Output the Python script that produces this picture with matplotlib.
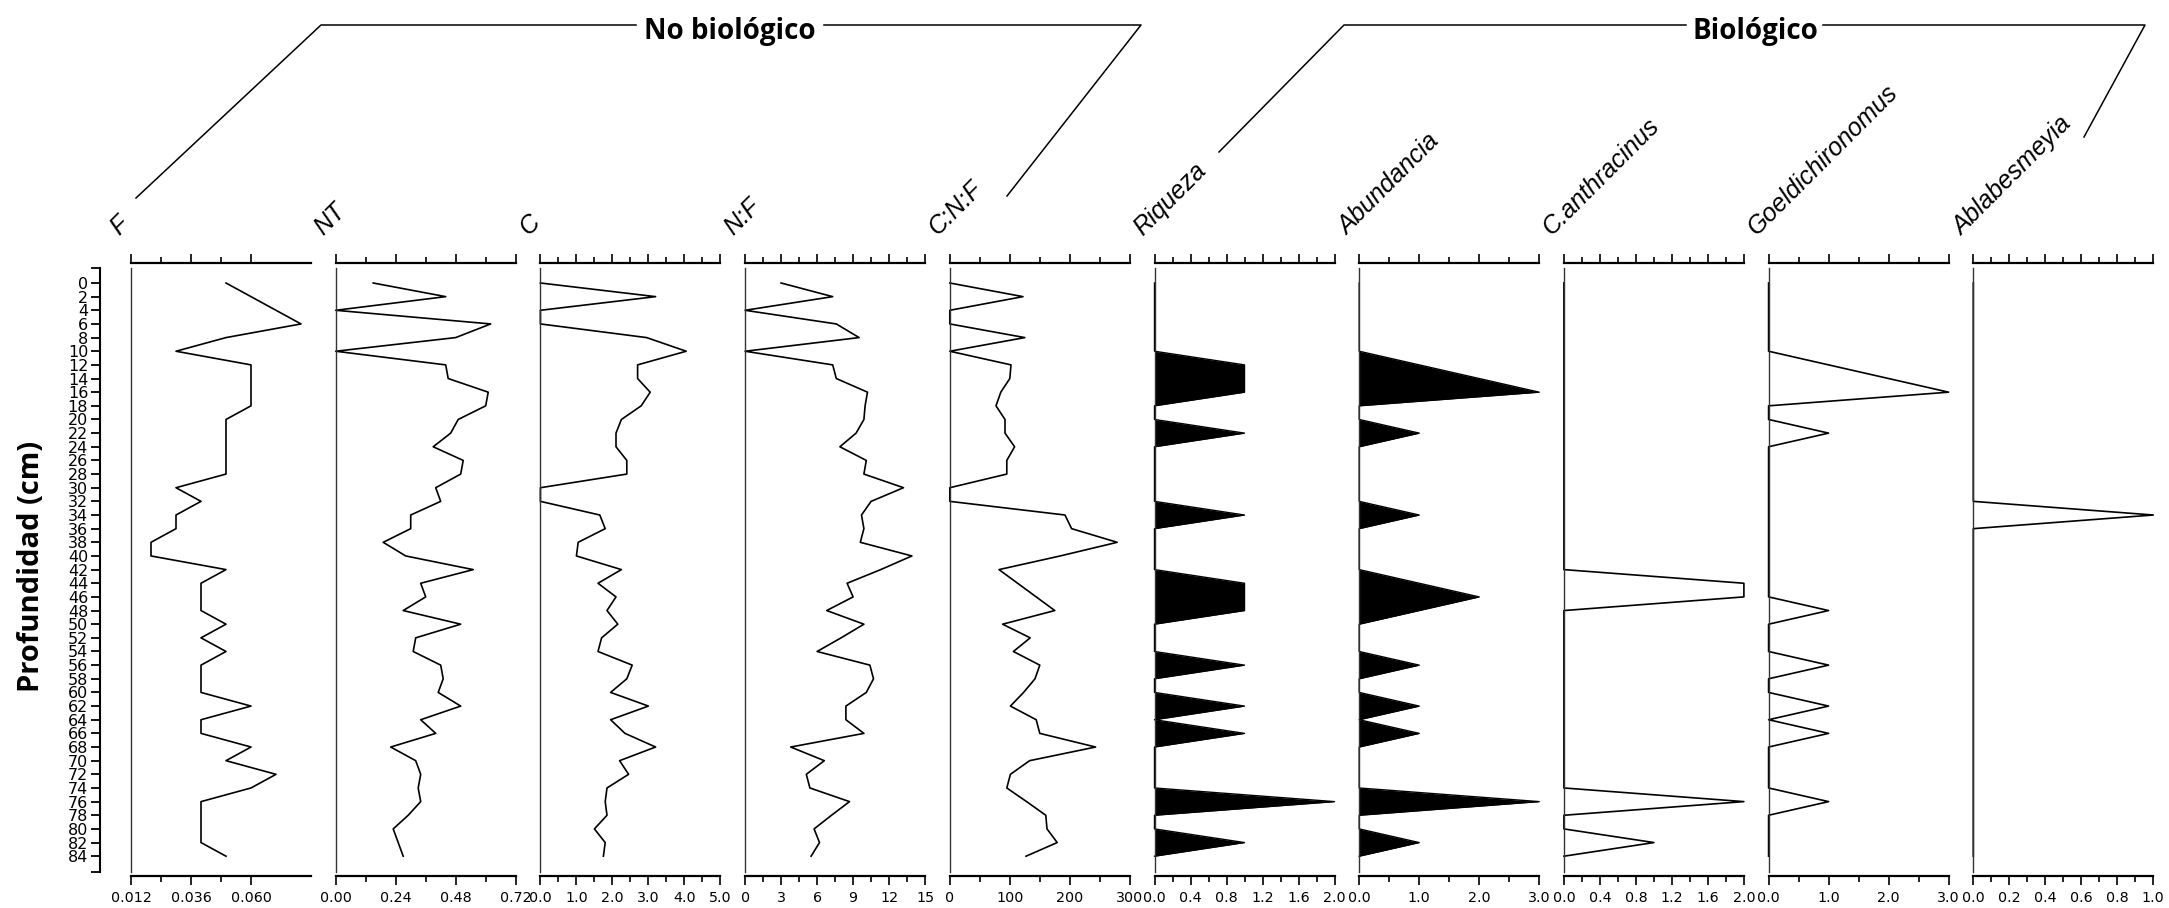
import matplotlib
matplotlib.use('Agg')
import matplotlib.pyplot as plt
from matplotlib import font_manager as fm
from matplotlib.lines import Line2D
import numpy as np

W, H, DPI = 2169, 908, 100

# profundidad (cm), una muestra cada 2 cm
depth = list(range(0, 86, 2))

f_vals = [0.05, 0.06, 0.07, 0.08, 0.05, 0.03, 0.06, 0.06, 0.06, 0.06,
          0.05, 0.05, 0.05, 0.05, 0.05, 0.03, 0.04, 0.03, 0.03, 0.02,
          0.02, 0.05, 0.04, 0.04, 0.04, 0.05, 0.04, 0.05, 0.04, 0.04,
          0.04, 0.06, 0.04, 0.04, 0.06, 0.05, 0.07, 0.06, 0.04, 0.04,
          0.04, 0.04, 0.05]
nt_vals = [0.15, 0.44, 0.0, 0.62, 0.48, 0.0, 0.44, 0.45, 0.61, 0.60,
           0.49, 0.46, 0.39, 0.51, 0.50, 0.40, 0.42, 0.30, 0.30, 0.19,
           0.28, 0.55, 0.34, 0.36, 0.27, 0.50, 0.32, 0.31, 0.42, 0.43,
           0.41, 0.50, 0.34, 0.40, 0.22, 0.32, 0.34, 0.33, 0.34, 0.29,
           0.23, 0.25, 0.27]
c_vals = [0.0, 3.2, 0.0, 0.0, 2.95, 4.05, 2.7, 2.7, 3.05, 2.8,
          2.25, 2.1, 2.1, 2.4, 2.4, 0.0, 0.0, 1.65, 1.8, 1.05,
          1.0, 2.25, 1.6, 2.1, 1.85, 2.15, 1.7, 1.6, 2.55, 2.4,
          1.95, 3.0, 1.95, 2.35, 3.2, 2.2, 2.45, 1.85, 1.8, 1.85,
          1.5, 1.8, 1.75]
nf_vals = [3.0, 7.3, 0.0, 7.6, 9.5, 0.0, 7.3, 7.6, 10.2, 10.0,
           9.9, 9.25, 7.9, 10.1, 9.9, 13.2, 10.5, 9.7, 9.9, 9.6,
           13.9, 11.3, 8.5, 9.0, 6.8, 9.9, 8.0, 6.0, 10.4, 10.7,
           10.1, 8.4, 8.4, 9.9, 3.8, 6.6, 5.1, 5.4, 8.7, 7.2,
           5.75, 6.2, 5.5]
cnf_vals = [0, 122, 0, 0, 125, 0, 102, 100, 85, 77,
            92, 92, 108, 95, 95, 0, 0, 192, 203, 279,
            184, 82, 113, 144, 175, 88, 134, 106, 150, 142,
            123, 101, 144, 150, 243, 133, 101, 95, 128, 160,
            162, 179, 127]
riqueza = [0, 0, 0, 0, 0, 0, 1, 1, 1, 0,
           0, 1, 0, 0, 0, 0, 0, 1, 0, 0,
           0, 0, 1, 1, 1, 0, 0, 0, 1, 0,
           0, 1, 0, 1, 0, 0, 0, 0, 2, 0,
           0, 1, 0]
abundancia = [0, 0, 0, 0, 0, 0, 1, 2, 3, 0,
              0, 1, 0, 0, 0, 0, 0, 1, 0, 0,
              0, 0, 1, 2, 1, 0, 0, 0, 1, 0,
              0, 1, 0, 1, 0, 0, 0, 0, 3, 0,
              0, 1, 0]
c_anthracinus = [0, 0, 0, 0, 0, 0, 0, 0, 0, 0,
                 0, 0, 0, 0, 0, 0, 0, 0, 0, 0,
                 0, 0, 2, 2, 0, 0, 0, 0, 0, 0,
                 0, 0, 0, 0, 0, 0, 0, 0, 2, 0,
                 0, 1, 0]
goeldichironomus = [0, 0, 0, 0, 0, 0, 1, 2, 3, 0,
                    0, 1, 0, 0, 0, 0, 0, 0, 0, 0,
                    0, 0, 0, 0, 1, 0, 0, 0, 1, 0,
                    0, 1, 0, 1, 0, 0, 0, 0, 1, 0,
                    0, 0, 0]
ablabesmeyia = [0, 0, 0, 0, 0, 0, 0, 0, 0, 0,
                0, 0, 0, 0, 0, 0, 0, 1, 0, 0,
                0, 0, 0, 0, 0, 0, 0, 0, 0, 0,
                0, 0, 0, 0, 0, 0, 0, 0, 0, 0,
                0, 0, 0]

# (titulo, datos, limites, ticks mayores, ticks menores, formato, estilo)
panels = [
    ('F', f_vals, (0.012, 0.084), [0.012, 0.036, 0.060], [0.024, 0.048], '{:.3f}', 'line'),
    ('NT', nt_vals, (0, 0.72), [0, 0.24, 0.48, 0.72], [0.12, 0.36, 0.60], '{:.2f}', 'line'),
    ('C', c_vals, (0, 5), [0, 1, 2, 3, 4, 5], [0.5, 1.5, 2.5, 3.5, 4.5], '{:.1f}', 'line'),
    ('N:F', nf_vals, (0, 15), [0, 3, 6, 9, 12, 15], [1.5, 4.5, 7.5, 10.5, 13.5], '{:.0f}', 'line'),
    ('C:N:F', cnf_vals, (0, 300), [0, 100, 200, 300], [50, 150, 250], '{:.0f}', 'line'),
    ('Riqueza', riqueza, (0, 2), [0, 0.4, 0.8, 1.2, 1.6, 2.0], [0.2, 0.6, 1.0, 1.4, 1.8], '{:.1f}', 'fill'),
    ('Abundancia', abundancia, (0, 3), [0, 1, 2, 3], [0.5, 1.5, 2.5], '{:.1f}', 'fill'),
    ('C.anthracinus', c_anthracinus, (0, 2), [0, 0.4, 0.8, 1.2, 1.6, 2.0], [0.2, 0.6, 1.0, 1.4, 1.8], '{:.1f}', 'outline'),
    ('Goeldichironomus', goeldichironomus, (0, 3), [0, 1, 2, 3], [0.5, 1.5, 2.5], '{:.1f}', 'outline'),
    ('Ablabesmeyia', ablabesmeyia, (0, 1), [0, 0.2, 0.4, 0.6, 0.8, 1.0], [0.1, 0.3, 0.5, 0.7, 0.9], '{:.1f}', 'outline'),
]


def has_bold(name):
    return any(f.name == name and f.weight in (600, 700, 'bold', 'semibold')
               for f in fm.fontManager.ttflist)


bold_family = next((n for n in ['Open Sans', 'Noto Sans', 'DejaVu Sans'] if has_bold(n)), 'DejaVu Sans')
names = {f.name for f in fm.fontManager.ttflist}
title_family = 'Liberation Sans' if 'Liberation Sans' in names else 'DejaVu Sans'

plt.rcParams['font.family'] = 'DejaVu Sans'

fig = plt.figure(figsize=(W / DPI, H / DPI), dpi=DPI)


def fx(px):
    return px / W


def fy(py):
    return 1 - py / H


AX_TOP, AX_BOT = 263, 876
PANEL_W = 180
Y_TOP, Y_BOT = -2.93, 86.9
SPINE_LO, SPINE_HI = -2.2, 86.3

# eje de profundidad
dax = fig.add_axes([fx(100), fy(AX_BOT), 0.0005, (AX_BOT - AX_TOP) / H])
dax.set_ylim(Y_BOT, Y_TOP)
for s in ['top', 'right', 'bottom']:
    dax.spines[s].set_visible(False)
dax.spines['left'].set_bounds(SPINE_LO, SPINE_HI)
dax.spines['left'].set_linewidth(1.5)
dax.set_xticks([])
dax.set_yticks(depth)
dax.set_yticklabels([str(d) for d in depth])
dax.set_yticks([SPINE_LO, SPINE_HI], minor=True)
dax.tick_params(axis='y', which='both', length=6.5, width=1.3, direction='out', pad=2, labelsize=11.5)
dax.patch.set_visible(False)

fig.text(fx(32), fy(566), 'Profundidad (cm)', rotation=90, ha='center', va='center',
         fontsize=21, fontweight='bold', family=bold_family)

for i, (name, vals, lims, major, minor, fmt, style) in enumerate(panels):
    left = 131 + i * 204.7
    ax = fig.add_axes([fx(left), fy(AX_BOT), PANEL_W / W, (AX_BOT - AX_TOP) / H])
    ax.set_xlim(*lims)
    ax.set_ylim(Y_BOT, Y_TOP)
    ax.spines['right'].set_visible(False)
    ax.spines['left'].set_bounds(SPINE_LO, SPINE_HI)
    ax.spines['left'].set_linewidth(1.0)
    ax.spines['left'].set_color('#333333')
    for s in ['top', 'bottom']:
        ax.spines[s].set_linewidth(1.6)
    ax.set_yticks([])
    ax.set_xticks(major)
    ax.set_xticklabels([fmt.format(v) for v in major])
    ax.set_xticks(minor, minor=True)
    ax.tick_params(axis='x', which='both', top=True, bottom=True, labeltop=False,
                   labelbottom=True, direction='out', width=1.2)
    ax.tick_params(axis='x', which='major', length=6.5, pad=4, labelsize=10.3)
    ax.tick_params(axis='x', which='minor', length=4.3)
    ax.patch.set_visible(False)

    if style == 'fill':
        ax.fill_betweenx(depth, 0, vals, color='black', lw=0)
        ax.plot(vals, depth, color='black', lw=1.0, clip_on=False)
    else:
        ax.plot(vals, depth, color='black', lw=1.2, clip_on=False)

    fig.text(fx(left - 12), fy(236), name, rotation=45, rotation_mode='anchor',
             ha='left', va='baseline', fontsize=18, style='italic', family=title_family)


def fig_line(xs, ys):
    fig.add_artist(Line2D([fx(x) for x in xs], [fy(y) for y in ys],
                          transform=fig.transFigure, color='black', lw=1.1))


# cabeceras de grupo
fig_line([136, 321, 636], [198, 25, 25])
fig_line([824, 1141, 1007], [25, 25, 196])
fig.text(fx(730), fy(39), 'No biológico', ha='center', va='baseline',
         fontsize=20, fontweight='bold', family=bold_family)

fig_line([1219, 1344, 1686], [152, 25, 25])
fig_line([1823, 2145, 2084], [25, 25, 137])
fig.text(fx(1755), fy(39), 'Biológico', ha='center', va='baseline',
         fontsize=20, fontweight='bold', family=bold_family)

fig.savefig('out.png', dpi=DPI, facecolor='white')
